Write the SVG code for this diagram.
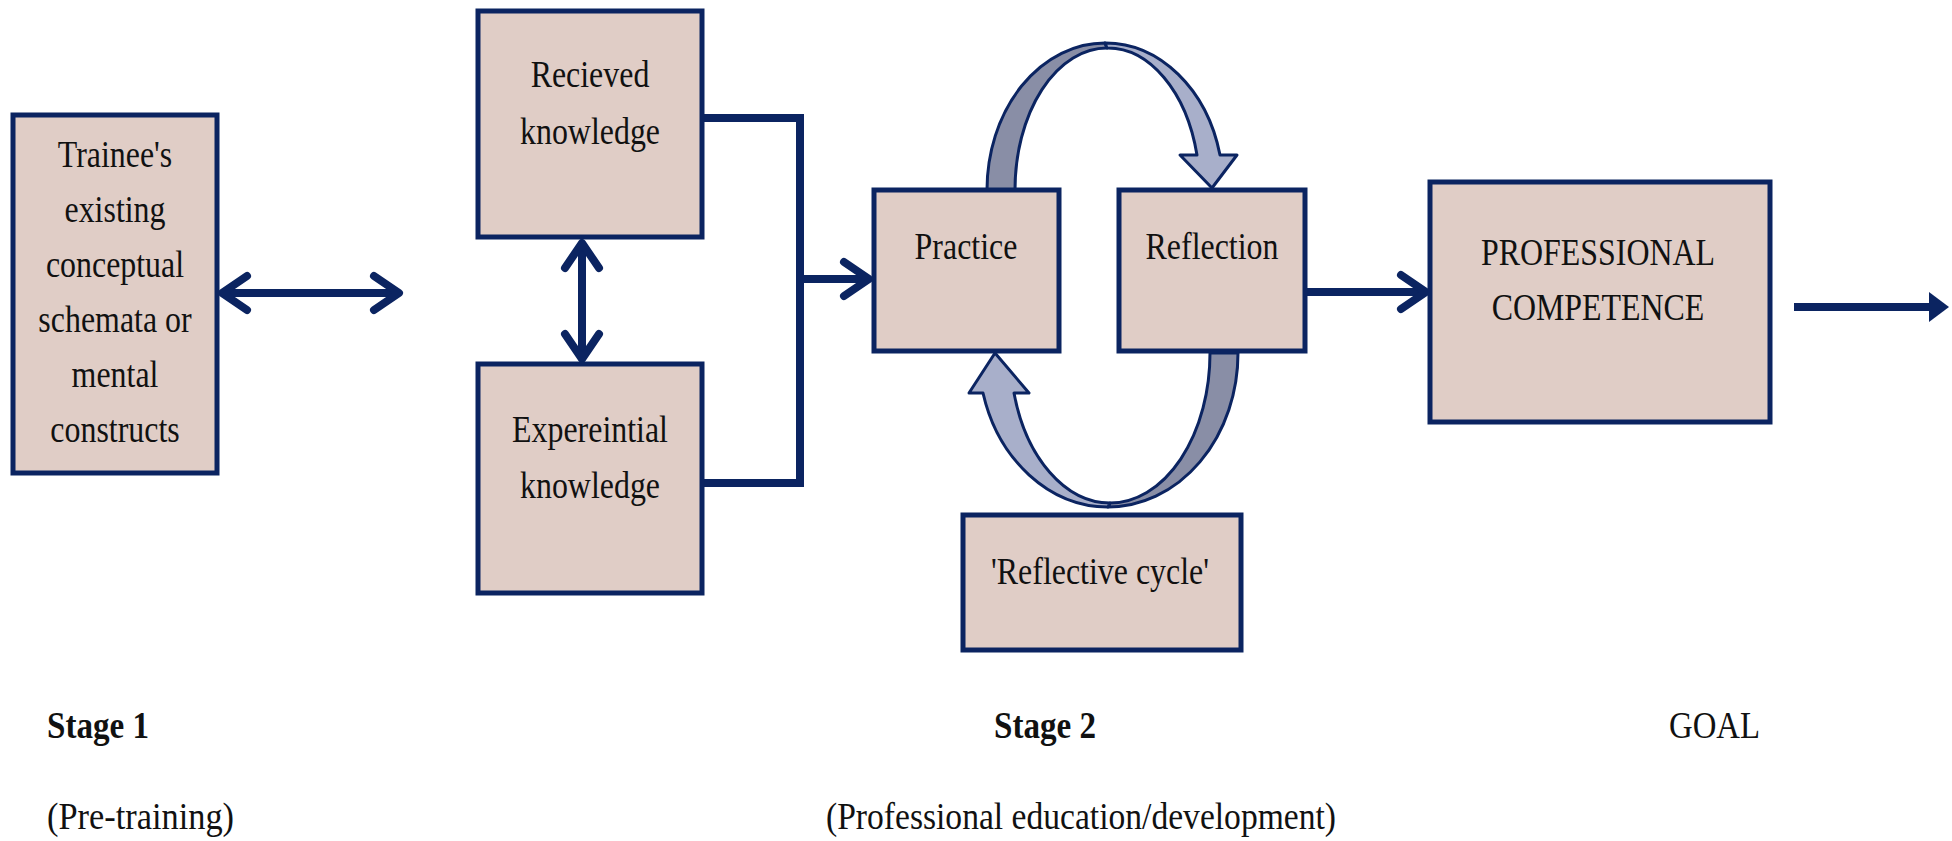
<svg xmlns="http://www.w3.org/2000/svg" width="1952" height="841" viewBox="0 0 1952 841">
  <style>
    .box { fill: #e0cdc6; stroke: #0b2461; stroke-width: 5; }
    .t { font-family: "Liberation Serif", "Times New Roman", serif; font-size: 38px; fill: #111; text-anchor: middle; }
    .lbl { font-family: "Liberation Serif", "Times New Roman", serif; font-size: 38px; fill: #111; }
    .b { font-weight: bold; }
    .conn { fill: none; stroke: #0b2461; stroke-width: 8; }
    .loop { stroke: #0b2461; stroke-width: 3; stroke-linejoin: round; }
    .dark { fill: #898ea6; }
    .light { fill: #a8afca; }
  </style>
  <defs>
    <marker id="chev" markerUnits="userSpaceOnUse" viewBox="0 0 36 44" markerWidth="36" markerHeight="44" refX="30" refY="22" orient="auto-start-reverse">
      <path d="M5,5 L30,22 L5,39" fill="none" stroke="#0b2461" stroke-width="8" stroke-linecap="round" stroke-linejoin="round"/>
    </marker>
    <marker id="tri" markerUnits="userSpaceOnUse" viewBox="0 0 20 30" markerWidth="20" markerHeight="30" refX="2" refY="15" orient="auto">
      <path d="M0,0 L20,15 L0,30 Z" fill="#0b2461"/>
    </marker>
  </defs>

  <g id="connectors">
    <line class="conn" x1="222" y1="293" x2="399" y2="293" marker-start="url(#chev)" marker-end="url(#chev)"/>
    <line class="conn" x1="582" y1="243" x2="582" y2="359" marker-start="url(#chev)" marker-end="url(#chev)"/>
    <polyline class="conn" points="702,118 800,118 800,483 702,483"/>
    <line class="conn" x1="800" y1="279" x2="869" y2="279" marker-end="url(#chev)"/>
    <line class="conn" x1="1305" y1="292" x2="1426" y2="292" marker-end="url(#chev)"/>
    <line class="conn" x1="1794" y1="307" x2="1931" y2="307" stroke-width="9" marker-end="url(#tri)"/>
    <g id="cycle-top">
      <path class="loop dark" d="M987,190 A118 147 0 0 1 1105,43 L1107,48 A92 142 0 0 0 1015,190 Z"/>
      <path class="loop light" d="M1105,43 A118 147 0 0 1 1220,155 L1237,155 L1212,188 L1180,155 L1197,155 A92 142 0 0 0 1107,48 Z"/>
    </g>
    <g id="cycle-bottom">
      <path class="loop dark" d="M1238,353 A130 154 0 0 1 1108,507 L1110,503 A100 150 0 0 0 1210,353 Z"/>
      <path class="loop light" d="M1108,507 A130 154 0 0 1 983,393 L969,393 L995,353 L1029,393 L1014,393 A100 150 0 0 0 1110,503 Z"/>
    </g>
  </g>

  <g id="trainee">
    <rect class="box" x="13" y="115" width="204" height="358"/>
    <text class="t" transform="translate(115,167) scale(0.84,1)">Trainee's</text>
    <text class="t" transform="translate(115,222) scale(0.84,1)">existing</text>
    <text class="t" transform="translate(115,277) scale(0.84,1)">conceptual</text>
    <text class="t" transform="translate(115,332) scale(0.84,1)">schemata or</text>
    <text class="t" transform="translate(115,387) scale(0.84,1)">mental</text>
    <text class="t" transform="translate(115,442) scale(0.84,1)">constructs</text>
  </g>

  <g id="received">
    <rect class="box" x="478" y="11" width="224" height="226"/>
    <text class="t" transform="translate(590,87) scale(0.84,1)">Recieved</text>
    <text class="t" transform="translate(590,144) scale(0.84,1)">knowledge</text>
  </g>

  <g id="experiential">
    <rect class="box" x="478" y="364" width="224" height="229"/>
    <text class="t" transform="translate(590,442) scale(0.84,1)">Expereintial</text>
    <text class="t" transform="translate(590,498) scale(0.84,1)">knowledge</text>
  </g>

  <g id="practice">
    <rect class="box" x="874" y="190" width="185" height="161"/>
    <text class="t" transform="translate(966,259) scale(0.84,1)">Practice</text>
  </g>

  <g id="reflection">
    <rect class="box" x="1119" y="190" width="186" height="161"/>
    <text class="t" transform="translate(1212,259) scale(0.84,1)">Reflection</text>
  </g>

  <g id="reflective-cycle">
    <rect class="box" x="963" y="515" width="278" height="135"/>
    <text class="t" transform="translate(1100,584) scale(0.84,1)">'Reflective cycle'</text>
  </g>

  <g id="competence">
    <rect class="box" x="1430" y="182" width="340" height="240"/>
    <text class="t" transform="translate(1598,265) scale(0.84,1)">PROFESSIONAL</text>
    <text class="t" transform="translate(1598,320) scale(0.84,1)">COMPETENCE</text>
  </g>

  <g id="labels">
    <text class="lbl b" x="47" y="738" textLength="102" lengthAdjust="spacingAndGlyphs">Stage 1</text>
    <text class="lbl b" x="994" y="738" textLength="102" lengthAdjust="spacingAndGlyphs">Stage 2</text>
    <text class="lbl" x="1669" y="738" textLength="91" lengthAdjust="spacingAndGlyphs">GOAL</text>
    <text class="lbl" x="47" y="829" textLength="187" lengthAdjust="spacingAndGlyphs">(Pre-training)</text>
    <text class="lbl" x="826" y="829" textLength="510" lengthAdjust="spacingAndGlyphs">(Professional education/development)</text>
  </g>
</svg>
